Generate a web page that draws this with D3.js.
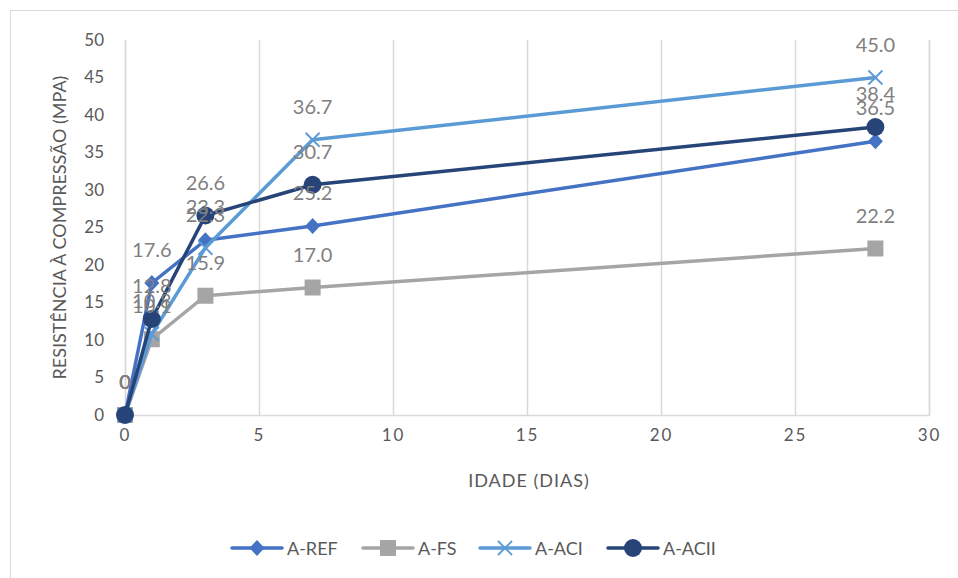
<!DOCTYPE html>
<html>
<head>
<meta charset="utf-8">
<script src="https://cdn.jsdelivr.net/npm/d3@7"></script>
<style>
  html, body { margin: 0; padding: 0; background: #fff; }
  svg { display: block; font-family: Lato, "Open Sans", sans-serif; }
</style>
</head>
<body>
<svg id="chart" width="958" height="578"></svg>
<script>
// Idades de ensaio (dias)
const days = [0, 1, 3, 7, 28];

// Resistência à compressão (MPa) por traço
const seriesNames = ["A-REF", "A-FS", "A-ACI", "A-ACII"];
const aRef  = [0, 17.6, 23.3, 25.2, 36.5];
const aFs   = [0, 10.1, 15.9, 17.0, 22.2];
const aAci  = [0, 10.8, 22.3, 36.7, 45.0];
const aAcii = [0, 12.8, 26.6, 30.7, 38.4];

const xTicks = [0, 5, 10, 15, 20, 25, 30];
const yTicks = [0, 5, 10, 15, 20, 25, 30, 35, 40, 45, 50];

const colors  = ["#4472C4", "#A5A5A5", "#5B9BD5", "#264478"];
const markers = ["diamond", "square", "cross", "circle"];
const values  = [aRef, aFs, aAci, aAcii];

const svg = d3.select("#chart");

// moldura do gráfico
svg.append("rect")
  .attr("x", 10.5).attr("y", 10.5)
  .attr("width", 970).attr("height", 590)
  .attr("fill", "#fff").attr("stroke", "#d9d9d9").attr("stroke-width", 1);

const plot = { left: 125, right: 929, top: 40, bottom: 415 };

const x = d3.scaleLinear().domain([0, 30]).range([plot.left, plot.right]);
const y = d3.scaleLinear().domain([0, 50]).range([plot.bottom, plot.top]);

// eixo X com linhas de grade verticais
const xAxis = d3.axisBottom(x).tickValues(xTicks).tickSize(-(plot.bottom - plot.top)).tickPadding(14);
const gx = svg.append("g").attr("transform", `translate(0,${plot.bottom})`).call(xAxis);
gx.select(".domain").attr("stroke", "#d9d9d9").attr("stroke-width", 1.5);
gx.selectAll(".tick line").attr("stroke", "#d9d9d9").attr("stroke-width", 1.5);
gx.selectAll(".tick text")
  .attr("fill", "#595959").attr("font-size", 17).attr("letter-spacing", "2px")
  .attr("font-family", "Lato, sans-serif");

const yAxis = d3.axisLeft(y).tickValues(yTicks).tickSize(0).tickPadding(21);
const gy = svg.append("g").attr("transform", `translate(${plot.left},0)`).call(yAxis);
gy.select(".domain").remove();
gy.selectAll(".tick text")
  .attr("fill", "#595959").attr("font-size", 17)
  .attr("font-family", "Lato, sans-serif");

// títulos dos eixos
svg.append("text")
  .attr("x", (plot.left + plot.right) / 2 + 2).attr("y", 487)
  .attr("text-anchor", "middle").attr("fill", "#595959").attr("font-size", 18)
  .attr("letter-spacing", "1px")
  .text("IDADE (DIAS)");

svg.append("text")
  .attr("transform", `translate(66,${(plot.top + plot.bottom) / 2}) rotate(-90)`)
  .attr("text-anchor", "middle").attr("fill", "#595959").attr("font-size", 18)
  .text("RESISTÊNCIA À COMPRESSÃO (MPA)");

// desenho dos marcadores
function drawMarker(g, type, cx, cy, color) {
  if (type === "diamond") {
    g.append("path")
      .attr("d", `M${cx},${cy - 8}L${cx + 7.5},${cy}L${cx},${cy + 8}L${cx - 7.5},${cy}Z`)
      .attr("fill", color);
  } else if (type === "square") {
    g.append("rect")
      .attr("x", cx - 8).attr("y", cy - 8).attr("width", 16).attr("height", 16)
      .attr("fill", color);
  } else if (type === "cross") {
    g.append("path")
      .attr("d", `M${cx - 7},${cy - 7}L${cx + 7},${cy + 7}M${cx + 7},${cy - 7}L${cx - 7},${cy + 7}`)
      .attr("stroke", color).attr("stroke-width", 1.8).attr("fill", "none");
  } else {
    g.append("circle").attr("cx", cx).attr("cy", cy).attr("r", 9).attr("fill", color);
  }
}

const line = d3.line().x(d => x(d[0])).y(d => y(d[1]));

values.forEach((vals, i) => {
  const pts = days.map((d, j) => [d, vals[j]]);
  const g = svg.append("g");
  g.append("path").datum(pts)
    .attr("d", line).attr("fill", "none")
    .attr("stroke", colors[i]).attr("stroke-width", 3.5)
    .attr("stroke-linejoin", "round").attr("stroke-linecap", "round");
  pts.forEach(p => drawMarker(g, markers[i], x(p[0]), y(p[1]), colors[i]));
});

// rótulos de dados
const fmt = v => v === 0 ? "0" : v.toFixed(1);
values.forEach((vals, i) => {
  svg.append("g").selectAll("text")
    .data(days.map((d, j) => [d, vals[j]]))
    .join("text")
    .attr("x", d => x(d[0]))
    .attr("y", d => y(d[1]) - 26)
    .attr("text-anchor", "middle")
    .attr("fill", "#7f7f7f").attr("font-size", 20)
    .text(d => fmt(d[1]));
});

// legenda
const legendX = [232, 363, 480, 608];
const legendY = 548;
seriesNames.forEach((name, i) => {
  const g = svg.append("g");
  g.append("line")
    .attr("x1", legendX[i]).attr("x2", legendX[i] + 50)
    .attr("y1", legendY).attr("y2", legendY)
    .attr("stroke", colors[i]).attr("stroke-width", 3.5).attr("stroke-linecap", "round");
  drawMarker(g, markers[i], legendX[i] + 25, legendY, colors[i]);
  g.append("text")
    .attr("x", legendX[i] + 55).attr("y", legendY + 6.5)
    .attr("fill", "#595959").attr("font-size", 18)
    .text(name);
});
</script>
</body>
</html>
